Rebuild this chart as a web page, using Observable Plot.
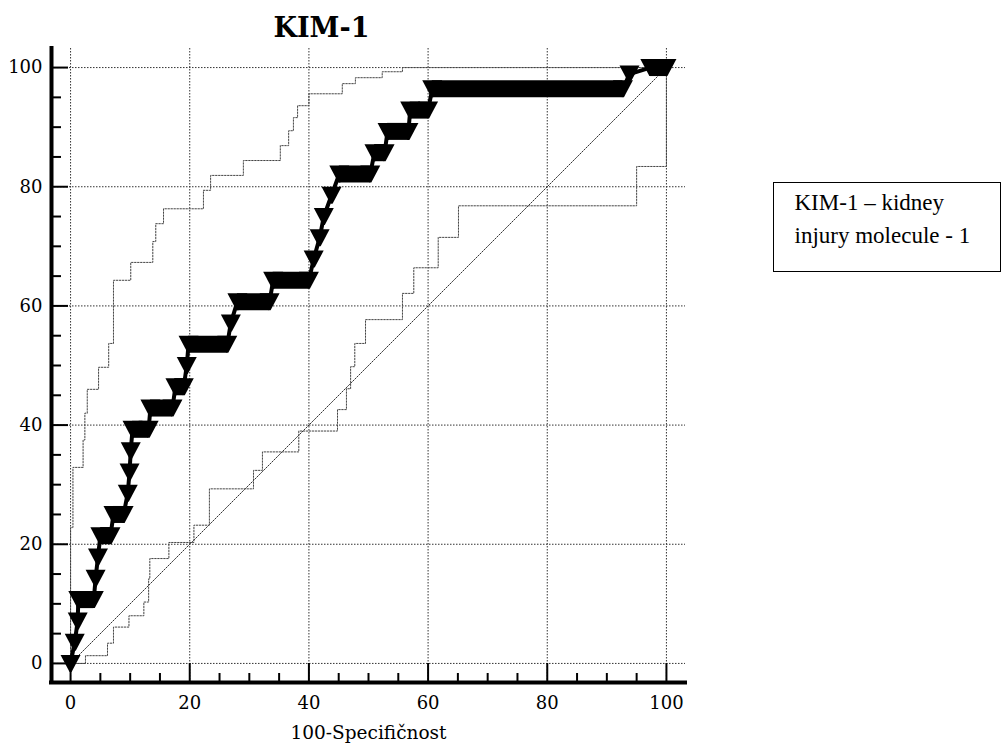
<!DOCTYPE html>
<html><head><meta charset="utf-8">
<script src="https://cdn.jsdelivr.net/npm/d3@7"></script>
<script src="https://cdn.jsdelivr.net/npm/@observablehq/plot@0.6"></script>
<style>
body{margin:0;background:#fff;}
#wrap{position:relative;width:1002px;height:747px;}
#legend{position:absolute;left:773px;top:182px;width:228px;height:90px;border:1.5px solid #000;box-sizing:border-box;
  font-family:"Liberation Serif","Times New Roman",serif;font-size:23px;line-height:33px;padding:3px 0 0 20.5px;color:#000;}
</style></head>
<body><div id="wrap"><div id="chart"></div><div id="legend">KIM-1 – kidney<br>injury molecule - 1</div></div>
<script>
const title = "KIM-1";
const xLabel = "100-Specifičnost";
const majorTicks = [0, 20, 40, 60, 80, 100];
const minorTicks = [5, 10, 15, 25, 30, 35, 45, 50, 55, 65, 70, 75, 85, 90, 95];
const diagonal = [0, 100];

// ROC operating points (100-specificity, sensitivity)
const rocX = [0, 0.7, 1.2, 1.3, 3.9, 4.2, 4.6, 5.0, 6.7, 7.2, 8.9, 9.6, 9.9, 10.1, 10.4, 13.1, 13.4, 17.1, 17.6, 19.0, 19.5, 19.8, 26.3, 26.9, 28.0, 33.4, 34.0, 40.0, 40.8, 41.8, 42.5, 43.8, 45.1, 50.3, 51.0, 52.7, 53.2, 56.7, 57.0, 60.0, 60.7, 92.7, 93.8, 97.3, 100];
const rocY = [0, 3.57, 7.14, 10.71, 10.71, 14.29, 17.86, 21.43, 21.43, 25, 25, 28.57, 32.14, 35.71, 39.29, 39.29, 42.86, 42.86, 46.43, 46.43, 50, 53.57, 53.57, 57.14, 60.71, 60.71, 64.29, 64.29, 67.86, 71.43, 75, 78.57, 82.14, 82.14, 85.71, 85.71, 89.29, 89.29, 92.86, 92.86, 96.43, 96.43, 98.9, 100, 100];

// 95% confidence bounds (step points)
const upperX = [0, 0, 0.4, 2.1, 2.4, 2.8, 4.7, 6.4, 7.2, 10.1, 13.8, 14.3, 15.6, 22.3, 23.5, 29.0, 35.2, 36.6, 37.4, 38.1, 40.0, 45.6, 47.8, 52.3, 55.7, 100];
const upperY = [0, 22.8, 32.9, 37.5, 42.0, 46.0, 49.7, 53.7, 64.3, 67.3, 70.8, 73.8, 76.3, 79.4, 81.9, 84.4, 86.9, 89.4, 91.6, 93.6, 95.6, 97.3, 98.3, 99.3, 100, 100];
const lowerX = [0, 2.5, 6.2, 7.2, 9.8, 12.3, 13.1, 13.3, 16.5, 20.7, 23.3, 30.7, 32.2, 38.3, 44.8, 46.3, 47.0, 47.7, 49.5, 55.7, 57.6, 61.7, 65.1, 95.0, 100, 100];
const lowerY = [0, 1.3, 3.4, 6.1, 8.0, 10.3, 14.2, 17.6, 20.3, 23.2, 29.3, 32.4, 35.5, 39.0, 42.6, 46.1, 49.8, 53.7, 57.7, 62.1, 66.4, 71.5, 76.8, 83.4, 83.4, 100];

const xDomain = [-3.2, 103.2];
const yDomain = [-3.2, 103.2];

const roc = rocX.map((x, i) => ({x, y: rocY[i]}));
const upper = upperX.map((x, i) => ({x, y: upperY[i]}));
const lower = lowerX.map((x, i) => ({x, y: lowerY[i]}));
const plateaus = [];
for (let i = 1; i < roc.length; i++) {
  if (roc[i].y === roc[i - 1].y) plateaus.push({x1: roc[i - 1].x, x2: roc[i].x, y: roc[i].y});
}

const triDown = {
  draw(ctx) {
    ctx.moveTo(-10, -8.5);
    ctx.lineTo(10, -8.5);
    ctx.lineTo(1, 8.5);
    ctx.lineTo(-1, 8.5);
    ctx.closePath();
  }
};

const dotted = {stroke: "#333", strokeWidth: 1, strokeDasharray: "1.5,1.5"};
const bandStyle = {stroke: "#444", strokeWidth: 1, strokeDasharray: "1.5,1.5"};

const chart = Plot.plot({
  width: 1002, height: 747,
  marginLeft: 51, marginRight: 317, marginTop: 48, marginBottom: 65,
  x: {domain: xDomain},
  y: {domain: yDomain},
  style: {fontFamily: "'DejaVu Serif', serif", fontSize: "18px", color: "#000", background: "#fff", overflow: "visible"},
  marks: [
    Plot.ruleX(majorTicks, dotted),
    Plot.ruleY(majorTicks, dotted),
    Plot.line(diagonal, {x: d => d, y: d => d, ...dotted}),
    Plot.line(upper, {x: "x", y: "y", curve: "step-after", ...bandStyle}),
    Plot.line(lower, {x: "x", y: "y", curve: "step-after", ...bandStyle}),
    Plot.ruleY(plateaus, {y: "y", x1: "x1", x2: "x2", stroke: "#000", strokeWidth: 17}),
    Plot.line(roc, {x: "x", y: "y", stroke: "#000", strokeWidth: 4}),
    Plot.dot(roc, {x: "x", y: "y", symbol: triDown, fill: "#000", stroke: "none"}),
    Plot.ruleX(majorTicks, {insetTop: 615, stroke: "#000", strokeWidth: 2}),
    Plot.ruleX(minorTicks, {insetTop: 625, stroke: "#000", strokeWidth: 2}),
    Plot.ruleY(majorTicks, {insetRight: 617, stroke: "#000", strokeWidth: 2}),
    Plot.ruleY(minorTicks, {insetRight: 624, stroke: "#000", strokeWidth: 2}),
    Plot.ruleX([xDomain[0]], {stroke: "#000", strokeWidth: 4, strokeLinecap: "square"}),
    Plot.ruleY([yDomain[0]], {stroke: "#000", strokeWidth: 4, strokeLinecap: "square"}),
    Plot.axisX(majorTicks, {tickSize: 0, tickPadding: 14, label: null}),
    Plot.axisY(majorTicks, {tickSize: 0, tickPadding: 9, label: null}),
    Plot.text([xLabel], {text: d => d, frameAnchor: "bottom", dy: 56, fontSize: 18.5}),
    Plot.text([title], {text: d => d, frameAnchor: "top", dx: -47, dy: -20, lineAnchor: "middle", fontSize: 27, fontWeight: "bold"})
  ]
});
document.getElementById("chart").appendChild(chart);
</script>
</body></html>
